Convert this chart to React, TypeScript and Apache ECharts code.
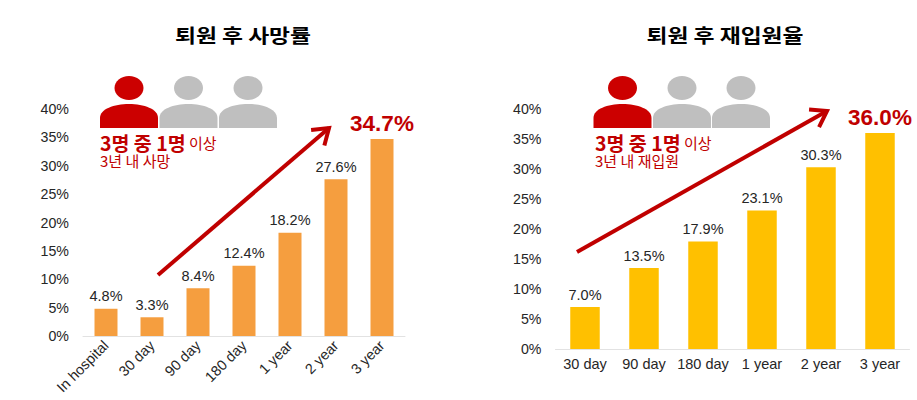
import React, { useEffect, useRef } from "react";
import * as echarts from "echarts";

const mortalityCategories = ["In hospital", "30 day", "90 day", "180 day", "1 year", "2 year", "3 year"];
const mortalityValues = [4.8, 3.3, 8.4, 12.4, 18.2, 27.6, 34.7];
const readmissionCategories = ["30 day", "90 day", "180 day", "1 year", "2 year", "3 year"];
const readmissionValues = [7.0, 13.5, 17.9, 23.1, 30.3, 36.0];
const titles = ["퇴원 후 사망률", "퇴원 후 재입원율"];
const notes = ["3년 내 사망", "3년 내 재입원"];

const FONT = "'Liberation Sans', Arial, sans-serif";
const KR = "'Noto Sans CJK KR', 'Liberation Sans', sans-serif";
const RED = "#c00000";
const GRAY = "#bfbfbf";

const BODY = "M0 24 L0 14 C0 5 14 0 29 0 C44 0 58 5 58 14 L58 24 Z";
echarts.graphic.registerShape("personBody", echarts.graphic.extendPath(BODY, {}) as any);

function person(x: number, color: string) {
  return [
    { type: "ellipse", shape: { cx: x + 29, cy: 88, rx: 14.5, ry: 12 }, style: { fill: color } },
    { type: "personBody", x, y: 104, style: { fill: color } },
  ];
}

function arrow(x1: number, y1: number, x2: number, y2: number) {
  const a = Math.atan2(y2 - y1, x2 - x1);
  const L = 18;
  const s = 0.6;
  return [
    {
      type: "line",
      shape: { x1, y1, x2, y2 },
      style: { stroke: RED, lineWidth: 4 },
    },
    {
      type: "polyline",
      shape: {
        points: [
          [x2 - L * Math.cos(a - s), y2 - L * Math.sin(a - s)],
          [x2, y2],
          [x2 - L * Math.cos(a + s), y2 - L * Math.sin(a + s)],
        ],
      },
      style: { stroke: RED, lineWidth: 4, fill: "none" },
    },
  ];
}

function callout(x: number, note: string) {
  return [
    {
      type: "text",
      x,
      y: 142.5,
      style: {
        text: "{b|3명 중 1명} {s|이상}",
        verticalAlign: "middle",
        rich: {
          b: { font: `bold 19.5px ${KR}`, fill: RED, lineHeight: 18 },
          s: { font: `15px ${KR}`, fill: RED, lineHeight: 18 },
        },
      },
    },
    {
      type: "text",
      x,
      y: 160.5,
      style: { text: note, font: `15px ${KR}`, fill: RED, verticalAlign: "middle", lineHeight: 15 },
    },
  ];
}

function titleText(x: number, text: string) {
  return {
    type: "text",
    x,
    y: 35,
    scaleX: 1.2,
    style: {
      text,
      font: `bold 19px ${KR}`,
      fill: "#000",
      align: "center",
      verticalAlign: "middle",
    },
  };
}

function barSeries(values: number[], color: string, idx: number) {
  const last = values.length - 1;
  return {
    type: "bar",
    xAxisIndex: idx,
    yAxisIndex: idx,
    barWidth: "50%",
    itemStyle: { color },
    data: values.map((v, i) =>
      i === last
        ? {
            value: v,
            label: { color: RED, fontSize: 22.5, fontWeight: "bold", distance: 4 },
          }
        : v,
    ),
    label: {
      show: true,
      position: "top",
      distance: 5,
      fontFamily: FONT,
      fontSize: 14.5,
      color: "#262626",
      formatter: (p: any) => `${Number(p.value).toFixed(1)}%`,
    },
  };
}

function xAxis(cats: string[], idx: number, rotate: number) {
  return {
    type: "category",
    gridIndex: idx,
    data: cats,
    axisLine: { lineStyle: { color: "#e2e2e2" } },
    axisTick: { show: false },
    axisLabel: {
      interval: 0,
      rotate,
      margin: 7,
      fontFamily: FONT,
      fontSize: 14.5,
      color: "#262626",
    },
  };
}

function yAxis(idx: number) {
  return {
    type: "value",
    gridIndex: idx,
    min: 0,
    max: 40,
    interval: 5,
    splitLine: { show: false },
    axisLine: { show: false },
    axisTick: { show: false },
    axisLabel: {
      margin: 14,
      formatter: "{value}%",
      fontFamily: FONT,
      fontSize: 14.2,
      color: "#262626",
    },
  };
}

export default function App() {
  const ref = useRef<HTMLDivElement>(null);
  useEffect(() => {
    const chart = echarts.init(ref.current!, undefined, { renderer: "svg" });
    chart.setOption({
      animation: false,
      backgroundColor: "#ffffff",
      grid: [
        { left: 83, width: 322, top: 109, height: 227 },
        { left: 555.5, width: 354, top: 109, height: 240 },
      ],
      xAxis: [xAxis(mortalityCategories, 0, 45), xAxis(readmissionCategories, 1, 0)],
      yAxis: [yAxis(0), yAxis(1)],
      series: [
        barSeries(mortalityValues, "#f59e3f", 0),
        barSeries(readmissionValues, "#ffc000", 1),
      ],
      graphic: [
        titleText(243, titles[0]),
        titleText(725, titles[1]),
        ...person(100, "#cc0000"),
        ...person(159.5, GRAY),
        ...person(219, GRAY),
        ...person(593.5, "#cc0000"),
        ...person(653, GRAY),
        ...person(712, GRAY),
        ...arrow(158, 275, 329, 128),
        ...arrow(577, 252, 827, 111),
        ...callout(100, notes[0]),
        ...callout(595, notes[1]),
      ],
    });
    return () => chart.dispose();
  }, []);
  return (
    <div
      ref={ref}
      style={{ position: "fixed", left: 0, top: 0, width: 917, height: 400 }}
    />
  );
}
